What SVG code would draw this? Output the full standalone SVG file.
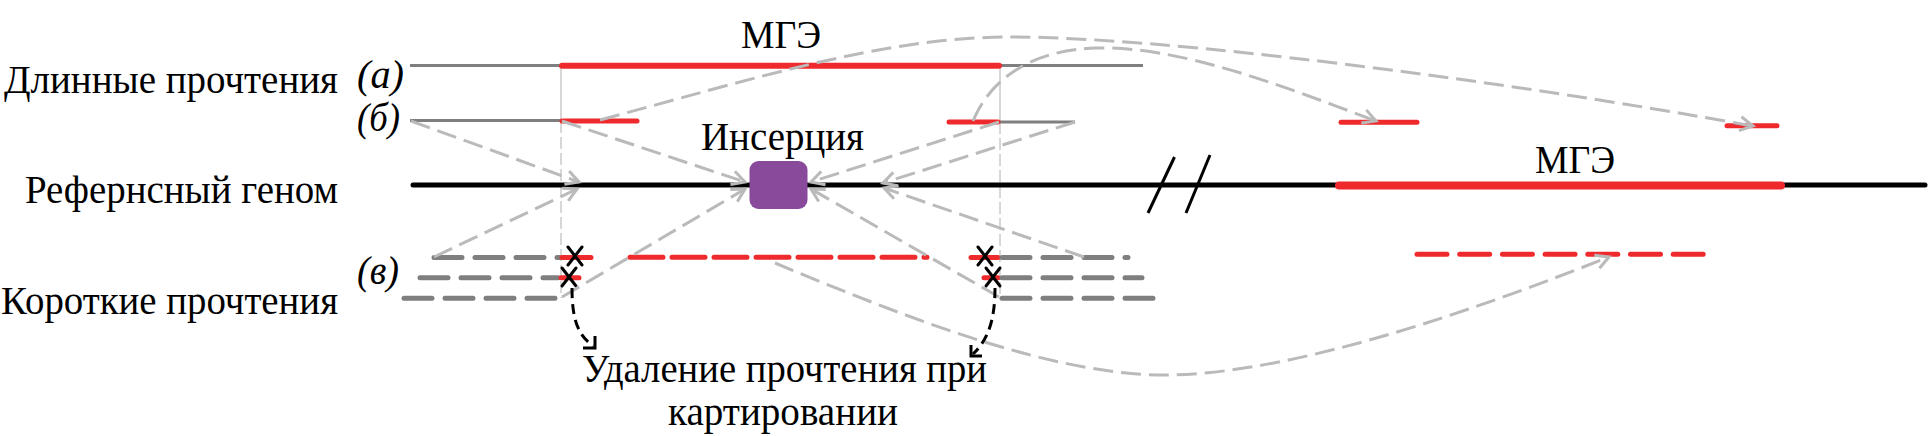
<svg xmlns="http://www.w3.org/2000/svg" width="1932" height="436" viewBox="0 0 1932 436">
<style>
text{font-size:40px;fill:#000}
.it{font-style:italic}
.gread{stroke:#7f7f7f;stroke-width:3;fill:none}
.rlong{stroke:#ee2a2d;stroke-width:6;stroke-linecap:round;fill:none}
.rmid{stroke:#ee2a2d;stroke-width:5;stroke-linecap:round;fill:none}
.gshort{stroke:#7f7f7f;stroke-width:5;stroke-linecap:round;stroke-dasharray:28 13;fill:none}
.rshort{stroke:#ee2a2d;stroke-width:5;stroke-linecap:round;stroke-dasharray:33 9;fill:none}
.rshort2{stroke:#ee2a2d;stroke-width:5;stroke-linecap:round;stroke-dasharray:30 12.7;fill:none}
.guide{stroke:#b0b0b0;stroke-width:1;fill:none}
.guided{stroke:#b0b0b0;stroke-width:1;stroke-dasharray:12 4;fill:none}
.conn{stroke:#bababa;stroke-width:3;stroke-dasharray:20 8;fill:none;marker-end:url(#ga)}
.blk{stroke:#000;stroke-width:3;fill:none}
.blkd{stroke:#000;stroke-width:3;stroke-dasharray:10 6;fill:none}
.xm{stroke:#000;stroke-width:3;fill:none;stroke-linecap:round}
</style>
<defs>
<marker id="ga" markerUnits="userSpaceOnUse" markerWidth="20" markerHeight="20" viewBox="0 0 20 20" refX="16" refY="10" orient="auto">
<path d="M3,3 L16,10 L3,17" fill="none" stroke="#bababa" stroke-width="3"/>
</marker>
</defs>
<rect width="1932" height="436" fill="#fff"/>

<g id="labels" font-family="Liberation Serif, Times New Roman, DejaVu Serif, serif">
<text x="4" y="93" textLength="334" lengthAdjust="spacingAndGlyphs">Длинные прочтения</text>
<text x="25" y="203" textLength="313" lengthAdjust="spacingAndGlyphs">Рефернсный геном</text>
<text x="1" y="314" textLength="337" lengthAdjust="spacingAndGlyphs">Короткие прочтения</text>
<text x="357" y="88" class="it" textLength="47" lengthAdjust="spacingAndGlyphs">(а)</text>
<text x="357" y="131" class="it" textLength="43" lengthAdjust="spacingAndGlyphs">(б)</text>
<text x="357" y="284" class="it" textLength="42" lengthAdjust="spacingAndGlyphs">(в)</text>
</g>

<g id="guides">
<line class="guide" x1="561" y1="66" x2="561" y2="121"/>
<line class="guided" x1="561" y1="121" x2="561" y2="298"/>
<line class="guide" x1="1000" y1="66" x2="1000" y2="122"/>
<line class="guided" x1="1000" y1="122" x2="1000" y2="298"/>
</g>

<g id="long-read-a">
<line class="gread" x1="410" y1="65.5" x2="561" y2="65.5"/>
<line class="gread" x1="1000" y1="65.5" x2="1143" y2="65.5"/>
<line class="rlong" x1="562" y1="65.7" x2="999" y2="65.7"/>
<text x="741" y="48" textLength="80" lengthAdjust="spacingAndGlyphs" font-family="Liberation Serif, Times New Roman, DejaVu Serif, serif">МГЭ</text>
</g>

<g id="long-read-b">
<line class="gread" x1="410" y1="120.5" x2="561" y2="120.5"/>
<line class="gread" x1="1000" y1="122" x2="1075" y2="122"/>
<line class="rmid" x1="562" y1="121" x2="637" y2="121"/>
<line class="rmid" x1="949" y1="122" x2="998" y2="122"/>
<line class="rmid" x1="1341" y1="122.3" x2="1417" y2="122.3"/>
<line class="rmid" x1="1727" y1="125.7" x2="1777" y2="125.7"/>
</g>

<g id="reference-genome">
<line x1="413" y1="185" x2="1925" y2="185" stroke="#000" stroke-width="5" stroke-linecap="round"/>
<line x1="1339" y1="185.5" x2="1781" y2="185.5" stroke="#ee2a2d" stroke-width="8" stroke-linecap="round"/>
<line class="blk" x1="1174.5" y1="157" x2="1148" y2="213"/>
<line class="blk" x1="1210" y1="155" x2="1186" y2="213"/>
<text x="1535" y="173" textLength="80" lengthAdjust="spacingAndGlyphs" font-family="Liberation Serif, Times New Roman, DejaVu Serif, serif">МГЭ</text>
</g>

<g id="insertion">
<rect x="749.5" y="161" width="58" height="48" rx="9" fill="#8a4a9c"/>
<text x="701" y="150" textLength="163" lengthAdjust="spacingAndGlyphs" font-family="Liberation Serif, Times New Roman, DejaVu Serif, serif">Инсерция</text>
</g>

<g id="short-reads">
<line class="gshort" x1="434" y1="257.5" x2="560" y2="257.5"/>
<line class="rmid" x1="562" y1="257.5" x2="591" y2="257.5"/>
<line class="rshort" x1="630" y1="257.3" x2="927" y2="257.3"/>
<line class="rmid" x1="971" y1="257.5" x2="998" y2="257.5"/>
<line class="gshort" x1="1002" y1="257.5" x2="1128" y2="257.5"/>

<line class="gshort" x1="420" y1="277.7" x2="558" y2="277.7"/>
<line class="rmid" x1="561" y1="277.7" x2="579" y2="277.7"/>
<line class="rmid" x1="984" y1="277.7" x2="998" y2="277.7"/>
<line class="gshort" x1="1002" y1="277.7" x2="1142" y2="277.7"/>

<line class="gshort" x1="404" y1="298.3" x2="560" y2="298.3"/>
<line class="gshort" x1="1002" y1="298.3" x2="1158" y2="298.3"/>

<line class="rshort2" x1="1417" y1="254.3" x2="1714" y2="254.3"/>
</g>

<g id="removed-marks">
<path class="xm" d="M568,247 L582,265 M582,247 L568,265"/>
<path class="xm" d="M562,268 L576,286 M576,268 L562,286"/>
<path class="xm" d="M978,247 L992,265 M992,247 L978,265"/>
<path class="xm" d="M986,268 L1000,286 M1000,268 L986,286"/>
</g>

<g id="connectors">
<line class="conn" x1="411" y1="121" x2="579" y2="182"/>
<line class="conn" x1="434" y1="257" x2="577" y2="189"/>
<line class="conn" x1="562" y1="121" x2="745" y2="182"/>
<line class="conn" x1="562" y1="297" x2="745" y2="189"/>
<line class="conn" x1="999" y1="122" x2="811" y2="182"/>
<line class="conn" x1="1075" y1="122" x2="883" y2="183"/>
<line class="conn" x1="999" y1="297" x2="811" y2="189"/>
<line class="conn" x1="1084" y1="257" x2="884" y2="188"/>
<path class="conn" d="M600,120 C750,80 880,38 1006,37 C1160,36 1500,80 1753,126"/>
<path class="conn" d="M973,121 C990,80 1030,50 1096,48 C1180,46 1280,85 1376,121"/>
<path class="conn" d="M775,263 C900,315 1050,375 1164,375 C1300,375 1500,300 1609,257"/>
<path class="blkd" d="M572,288 C572,320 578,335 593,346"/>
<path class="blk" d="M583,348 L595,348 L595,336"/>
<path class="blkd" d="M995,288 C995,320 988,340 973,354"/>
<path class="blk" d="M971,345 L971,356 L982,356"/>
</g>

<g id="caption" font-family="Liberation Serif, Times New Roman, DejaVu Serif, serif">
<text x="582" y="382" textLength="405" lengthAdjust="spacingAndGlyphs">Удаление прочтения при</text>
<text x="668" y="425" textLength="230" lengthAdjust="spacingAndGlyphs">картировании</text>
</g>
</svg>
